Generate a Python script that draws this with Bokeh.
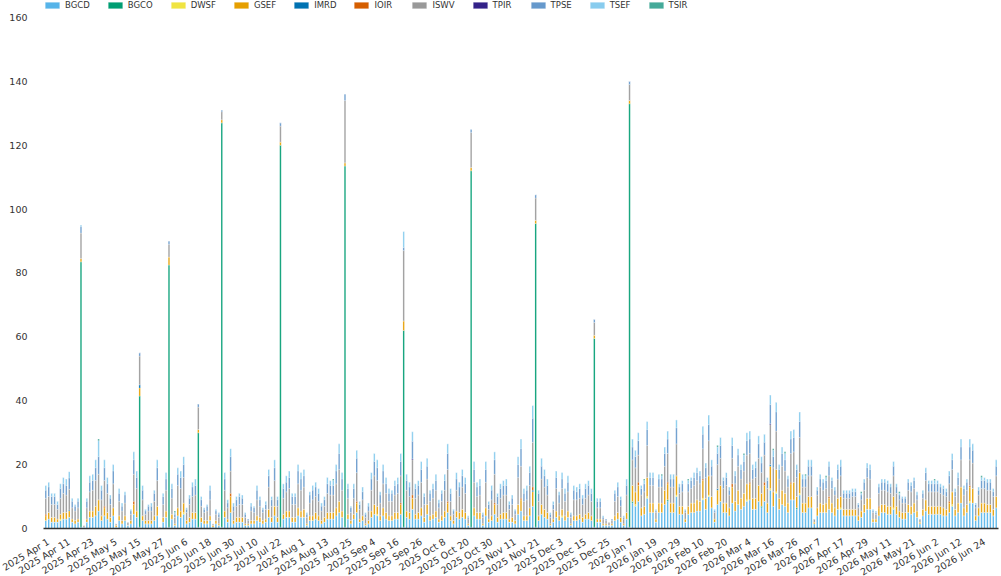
import pandas as pd
from bokeh.plotting import figure
from bokeh.models import Range1d, FixedTicker, Legend, LegendItem, ColumnDataSource
from bokeh.embed import file_html
from bokeh.resources import INLINE

# ---- categories: business days (no New Year's Day) ----
dates = [d for d in pd.bdate_range("2025-04-01", "2026-06-30") if d != pd.Timestamp("2026-01-01")]
labels = [f"{d.year} {d.strftime('%b')} {d.day}" for d in dates]
n = len(labels)

series = ["BGCD", "BGCO", "DWSF", "GSEF", "IMRD", "IOIR", "ISWV", "TPIR", "TPSE", "TSEF", "TSIR"]
colors = ["#56B4E9", "#009E73", "#F0E442", "#E69F00", "#0072B2", "#D55E00",
          "#999999", "#332288", "#6699CC", "#88CCEE", "#44AA99"]

BGCD = [
 2.5,3,2,2,2,2.5,3,3,3.5,2,
 1.5,2,0.5,0.5,2,3.5,3.5,4,5.5,2.5,
 4,3,2,4,0.5,2.5,1.5,2.5,1,1.5,
 4.5,3.5,0.5,2.5,1.5,1.5,1.5,2.5,4,0.5,
 2,3.5,0.5,3,1,4,3.5,4.5,1.5,2,
 3,3,0.5,2,1.5,1.5,2.5,0.5,1.5,1,
 0.5,3.5,2,5,1.5,2,2,2,1,1,
 1.5,1.5,2.5,2,1.5,2,3.5,2,4,2,
 0.5,3,3.5,3.5,2,2,4,3.5,3.5,1,
 2.5,2.5,3,2.5,1.5,2,3,3,3,4,
 5,3.5,0.5,3,1.5,3,5,2,2.5,1,
 1.5,3.5,4.5,4,2.5,4,3,2.5,2.5,3,
 3,4.5,0.5,3.5,3,6,3,3,4,2,
 4.5,2.5,3,3.5,2,2.5,3.5,5,2.5,1.5,
 3.5,3,3.5,3,1,0.5,4,3,3,1,
 4,2,2.5,4.5,2,3,3,3,2,2,
 1.5,4.5,5.5,2.5,2.5,4,7,0.5,2.5,4.5,
 3.5,3,1,2,3.5,2.5,3.5,2.5,3.5,1,
 2.5,2.5,3,2,3,3,2.5,0.5,2,2,
 1,1,1,1,2.5,3,2,1,3,0.5,
 8,7,8.5,4,4.5,9.5,5,5,2,5,
 5,7.5,8.5,5,5,10,4.5,4.5,2,4.5,
 5,5,5.5,5.5,9,6,10,6.5,2,7.5,
 8.5,5,5,4,8,5.5,7.5,6,7,8.5,
 9,6,6,8.5,6.5,8.5,5,12,7,11,
 6,7.5,7,5,9,9,6,10.5,5,5,
 6.5,6.5,1.5,4,5,5,5,6,5,4,
 6,6,4,4,4,4,4,2.5,3.5,5,
 6,6,2,2,4,5,5,4.5,4.5,6,
 4.5,3.5,3,3,5,4.5,5,3.5,1.5,4,
 5.5,4.5,4.5,4.5,4.5,4.5,4,4,5,7,
 4,5,8,4,5,8,8,2.5,4,5,
 5,5,5,4,6.5]

GSEF = [
 1.5,2,1.5,1.5,1,1.5,2,2,2,1,
 1,1,1,0,1,2,2,3,3.5,1.5,
 2.5,2,1.5,2.5,0.5,1.5,1,1.5,0,1,
 3,2,2.5,1.5,1,1,1,1.5,3,0,
 1.5,2,2.5,1.5,0.5,2.5,2,3,1,1.5,
 2,2,1,1.5,1,1,1.5,0.5,1,0.5,
 1,2,1,5,1,1.5,1.5,1.5,0.5,0.5,
 1,1,1.5,1.5,1,1,2.5,1.5,3,1.5,
 1,1.5,2,2,1.5,1.5,2.5,2,2.5,0.5,
 1.5,1.5,2,1.5,1,1.5,2,2,2,2.5,
 3.5,2,1,1.5,1,1.5,3,1,1.5,0.5,
 1,2,3,2.5,1.5,2.5,2,1.5,1.5,2,
 2,3,3,2,2,3.5,1.5,2,2.5,1.5,
 3,1.5,1.5,2,1,1.5,2,3,1.5,1,
 2,2,2.5,2,0.5,1,2.5,2,2,0.5,
 2.5,1,1.5,3,1.5,1.5,2,2,1,1.5,
 1,3,3.5,1.5,1.5,2.5,4.5,1,1.5,3,
 2.5,2,0.5,1,2,1.5,2,1.5,2,0.5,
 1.5,1.5,1.5,1.5,1.5,2,1.5,1,1,1,
 0.5,0.5,0,0.5,1.5,2,1.5,0.5,2,1,
 5,4,5,2.5,2.5,6,3,3,1,3,
 3,4.5,5,3,3,6,2.5,2.5,1,2.5,
 3,3,3.5,3,5.5,3.5,6,3.5,1,4.5,
 5,3,3,2.5,5,3,4.5,3.5,4,5,
 5,3.5,3.5,5,4,5,3,7,4.5,7,
 3.5,4.5,4,3,5,5.5,3.5,6.5,3,3,
 3.5,3.5,0.5,2.5,3,2.5,3,3.5,3,2.5,
 3.5,3.5,2,2,2,2,2,1.5,2,2.5,
 3.5,3.5,1,1,2.5,2.5,2.5,2.5,2.5,3.5,
 2.5,2,2,2,2.5,2.5,3,2,0.5,2,
 3.5,2.5,2.5,2.5,2.5,2.5,2.5,2,3,4,
 2,3,5,2.5,2.5,4.5,4.5,1.5,2.5,3,
 3,2.5,2.5,2,3.5]

ISWV = [
 5,5,4,4,3,5,6,5.5,6.5,3.5,
 3,3.5,8,0.5,3.5,6,6.5,8,8,5,
 8,6,4,7.5,0.5,4.5,3,4,1,2,
 8.5,7,9,5,2,3,3,4.5,8,0,
 4,6.5,4,5,2,7,7,8,2.5,4,
 5,5.5,7,3.5,2.5,3,5,0.5,2,2,
 2.5,6.5,3.5,7,3,3.5,4,4,2,1,
 3,2.5,5,3.5,2.5,3,7,3.5,8,3.5,
 5,5,6,7,4,4,7.5,6.5,7,2,
 4,5,5,4.5,3,3.5,6,5.5,5.5,7.5,
 10,6.5,19.5,5,2.5,5,9,3,5,2,
 3,6.5,9,8,4,7.5,6,4.5,4.5,5.5,
 6,8.5,22,6.5,5,11,5,5.5,8,4,
 8,4.5,5,6.5,3.5,4.5,6.5,10,4.5,2,
 6.5,5,7,6,1.5,11,8,5,5.5,2,
 8,3,5,9,4,5,5.5,5.5,3,4,
 2,8.5,10,4.5,5,7,14,7,4.5,8,
 7,5.5,2,3,7,4,6.5,4.5,6,2,
 5,5,5,4,5,5.5,4.5,4,3.5,3.5,
 1.5,1,1,1,4.5,5,3.5,1.5,5.5,5,
 8,7.5,8.5,4,4.5,10,5.5,5.5,2,5,
 5,7.5,9,5,5,10,4,4.5,2,4.5,
 4.5,5.5,6,5.5,9.5,6.5,11,6.5,2,7.5,
 8.5,4.5,5.5,4,8,5.5,7.5,6,7,9,
 9,6,6.5,8.5,6.5,8.5,4.5,12.5,7.5,12,
 6,7.5,7,5,9,9.5,6,11,5,5,
 6.5,6.5,1,4,5,4.5,4.5,6.5,4.5,4,
 6,6.5,3.5,3.5,3.5,4,4,2.5,3.5,4.5,
 6.5,6,2,1.5,4,4.5,4.5,4.5,4,6.5,
 4,3.5,3,3,4.5,4.5,4.5,3.5,1,3.5,
 6,4.5,4.5,4.5,4.5,4,4,4,5.5,7,
 4,5.5,8.5,4,4.5,8,8,2.5,4,4.5,
 4.5,4.5,4.5,4,6.5]

TPSE = [
 2.5,3,2.5,2.5,1.5,3,3,3,3.5,2,
 1.5,2,2,0,2,3,3,4,5.5,3,
 4,3,2,4,0,2.5,1.5,2.5,0,1,
 4.5,3.5,1,3,1,1.5,1.5,2.5,4,0,
 2.5,3.5,1,3,1,3.5,3.5,4,1,2,
 3,3,1,2,1,1.5,3,0,1,1,
 0.5,3.5,1.5,4.5,1.5,2,2.5,2,1,0.5,
 1.5,1.5,3,2,1,1.5,3.5,2,4,2,
 1,3,3,3.5,2.5,2.5,4,3.5,3.5,1,
 2.5,3,3,2.5,1.5,2,3,3,3,4,
 5,3.5,2,3,1.5,3,4.5,1.5,2.5,1,
 1.5,3.5,4.5,4,2.5,4,3,2.5,2.5,3,
 3,4.5,1,3,3,5.5,3,3,4,2.5,
 4,2.5,3,3,1.5,2.5,3,5,2.5,1,
 3.5,3,3.5,3,0.5,1,4,3,3,1,
 4,1.5,3,4.5,2.5,3,3,3,1.5,2,
 1,4,5.5,2.5,3,4,7.5,1,2.5,4,
 3.5,3,1,1.5,3.5,2.5,3,2.5,3,1,
 3,2.5,3,2,3,3,2.5,1,2,2,
 0.5,0.5,0,0.5,2.5,3,2,0.5,3,1,
 4,3.5,4.5,2,2.5,5,2.5,2.5,0.5,2.5,
 2.5,4,4.5,2.5,2.5,5,2,2.5,0.5,2.5,
 2.5,2.5,2.5,2.5,4.5,3,5,3,0.5,3.5,
 4,2.5,2.5,1.5,4,2.5,3.5,3,3,4.5,
 4.5,3,3,4.5,3,4,2.5,6,3.5,6,
 3,4,3.5,2.5,4.5,4.5,2.5,5,2.5,2.5,
 3,3,0,1.5,2.5,2.5,2.5,3,2.5,1.5,
 3,3,1.5,1.5,1.5,1.5,1.5,1,1.5,2.5,
 3,3,0.5,0.5,2,2.5,2.5,2.5,2,3,
 2,1.5,1.5,1.5,2.5,2,2.5,1.5,0,1.5,
 2.5,2.5,2.5,2.5,2.5,2,2,1.5,2.5,3,
 1.5,2.5,4,2,2.5,4,4,1,1.5,2.5,
 2.5,2.5,2.5,1.5,3]

TSEF = [
 1.5,1.5,1,1,1,1.5,2,2,2,1,
 0.5,1,0.5,0,1,2,2,2.5,5,1.5,
 2.5,2,1,2,0,1.5,1,1,0,0.5,
 2.5,2,0,1.5,0.5,0.5,1,1,2.5,0,
 1,2,0,1.5,0.5,2,2,2.5,0.5,1,
 1.5,2,0,1,0.5,0.5,1.5,0,0.5,0.5,
 0,2,1,2.5,1,1,1,1,0.5,0,
 1,0.5,1.5,1,0.5,1,2,1,2.5,1,
 0,1.5,2,2,1,1,2,2,2,0.5,
 1,1.5,1.5,1.5,1,1,2,1.5,1.5,2,
 3,2,0,1.5,0.5,1.5,2.5,1,1.5,0.5,
 1,2,2.5,2.5,1,2,2,1.5,1,1.5,
 2,2.5,5,2,1.5,3,1.5,1.5,2.5,1,
 2.5,1,1.5,2,1,1,2,3,1.5,0.5,
 2,1.5,2,2,0.5,0,2.5,1.5,2,0.5,
 2.5,1,1.5,2.5,1,1.5,1.5,2,1,1,
 0.5,2.5,3,1.5,1.5,2,4,0,1,2.5,
 2,2,0.5,1,2,1,2,1.5,2,0.5,
 1.5,1.5,1.5,1,1.5,1.5,1.5,0,1,1,
 0.5,0,0,0,1,1.5,1,0.5,2,0,
 2.5,2,2.5,1,1,2.5,1.5,1.5,0.5,1.5,
 1,2,2.5,1.5,1.5,2.5,1,1,0.5,1,
 1,1.5,1.5,1.5,2.5,1.5,3,2,0.5,2,
 2.5,1,1.5,1,2.5,1.5,2,1.5,2,2.5,
 2.5,1.5,2,2.5,2,2.5,1,3,2,3,
 1.5,2,2,1,2.5,2.5,1.5,3,1.5,1,
 2,2,0,1,1.5,1,1,1.5,1,1,
 1.5,2,1,1,1,1,1,0.5,0.5,1,
 1.5,1.5,0.5,0.5,1,1,1,1,1,1.5,
 1,0.5,0.5,0.5,1,1,1,1,0,1,
 1.5,1,1,1,1,1,1,1,1.5,2,
 1,1.5,2.5,1,1,2.5,2,0.5,1,1,
 1,1,1,1,2]

# sparse series: {bar index: value}
BGCO_pts = {12: 83, 32: 41, 42: 82, 52: 29.5, 60: 126.5, 80: 119.5, 102: 113, 122: 61.5,
            145: 111.5, 167: 95, 187: 59, 199: 132.5, 200: 0.5, 212: 0.5, 244: 0.5, 256: 0.5}
DWSF_pts = {5: 0.5, 47: 0.5, 113: 0.5, 176: 0.5, 201: 0.5, 205: 0.5,
            215: 0.5, 224: 0.5, 226: 0.5, 239: 0.5, 247: 0.5, 249: 0.5, 257: 0.5,
            271: 0.5, 289: 0.5, 309: 0.5, 315: 0.5}
IMRD_pts = {8: 0.3, 32: 1, 166: 0.5, 229: 0.5, 247: 0.5}
IOIR_pts = {0: 0.5, 20: 0.5, 30: 1, 63: 1, 106: 0.5, 121: 0.5, 125: 1, 137: 0.5, 153: 0.5,
            162: 0.5, 166: 1, 202: 1, 212: 0.5, 224: 0.5, 234: 1, 240: 0.5, 245: 1, 254: 0.5,
            267: 0.5, 284: 0.5, 308: 0.5, 315: 0.5}
TPIR_pts = {125: 0.3, 247: 0.3}
TSIR_pts = {18: 0.5, 44: 0.5, 98: 0.5, 204: 0.5, 210: 0.5, 219: 0.5, 229: 0.5, 238: 0.5,
            248: 0.5, 252: 0.5, 259: 0.5, 266: 0.5, 278: 0.5, 291: 0.5, 303: 0.5, 319: 0.5}

y_ticks = [0, 20, 40, 60, 80, 100, 120, 140, 160]


def expand(pts):
    return [pts.get(i, 0) for i in range(n)]


data = {"x": list(range(n)),
        "BGCD": BGCD[:n], "BGCO": expand(BGCO_pts), "DWSF": expand(DWSF_pts),
        "GSEF": GSEF[:n], "IMRD": expand(IMRD_pts), "IOIR": expand(IOIR_pts),
        "ISWV": ISWV[:n], "TPIR": expand(TPIR_pts), "TPSE": TPSE[:n],
        "TSEF": TSEF[:n], "TSIR": expand(TSIR_pts)}
source = ColumnDataSource(data)

p = figure(width=1000, height=585, output_backend="svg", toolbar_location=None,
           x_range=Range1d(-0.78, n - 0.22), y_range=Range1d(0, 165.3),
           min_border_left=43, min_border_right=2, min_border_top=0, min_border_bottom=45)

rs = p.vbar_stack(series, x="x", width=0.5, color=colors, source=source,
                  line_color="white", line_width=0.2)

legend = Legend(items=[LegendItem(label=s, renderers=[r]) for s, r in zip(series, rs)],
                orientation="horizontal", location="top_left")
legend.margin = 0
legend.padding = 1
legend.border_line_color = None
legend.background_fill_alpha = 0
legend.glyph_width = 18
legend.glyph_height = 8
legend.label_height = 8
legend.label_standoff = 4
legend.spacing = 16
legend.label_text_font = "DejaVu Sans"
legend.label_text_font_size = "8.5px"
legend.label_text_color = "#333333"
p.add_layout(legend)

p.xgrid.visible = False
p.ygrid.visible = False
p.outline_line_color = None

p.xaxis.ticker = FixedTicker(ticks=list(range(0, n, 8)))
p.xaxis.major_label_overrides = {i: labels[i] for i in range(0, n, 8)}
p.xaxis.major_label_orientation = 0.55
p.xaxis.major_tick_line_color = None
p.xaxis.minor_tick_line_color = None
p.xaxis.axis_line_color = "#333333"
p.xaxis.axis_line_width = 1.5
p.xaxis.major_label_standoff = 6

p.yaxis.ticker = FixedTicker(ticks=y_ticks)
p.yaxis.axis_line_color = None
p.yaxis.major_tick_line_color = None
p.yaxis.minor_tick_line_color = None
p.yaxis.major_label_standoff = 10

for ax in (p.xaxis, p.yaxis):
    ax.major_label_text_font = "DejaVu Sans"
    ax.major_label_text_font_size = "9.5px"
    ax.major_label_text_color = "#333333"

open("out.html", "w").write(file_html(p, INLINE))
